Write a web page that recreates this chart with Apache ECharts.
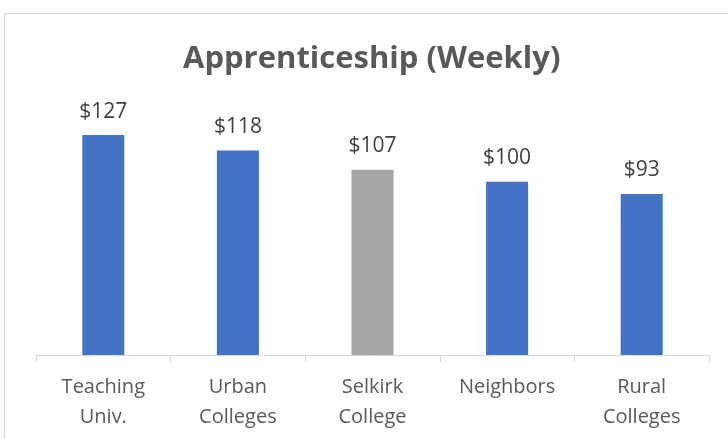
<!DOCTYPE html>
<html>
<head>
<meta charset="utf-8">
<script src="https://cdn.jsdelivr.net/npm/echarts@6/dist/echarts.min.js"></script>
<style>
  html, body { margin: 0; padding: 0; background: #fff; }
  #frame {
    position: absolute; left: 4px; top: 13px; width: 760px; height: 460px;
    border: 1px solid #d9d9d9; box-sizing: border-box;
  }
  #chart { position: absolute; left: 0; top: 0; width: 728px; height: 439px; }
</style>
</head>
<body>
<div id="frame"></div>
<div id="chart"></div>
<script>
const categories = ["Teaching\nUniv.", "Urban\nColleges", "Selkirk\nCollege", "Neighbors", "Rural\nColleges"];
const weeklyPay = [127, 118, 107, 100, 93];
const highlightIndex = 2;

const chart = echarts.init(document.getElementById("chart"));
const font = "Open Sans";

const option = {
  backgroundColor: "transparent",
  title: {
    text: "Apprenticeship (Weekly)",
    left: 183,
    top: 44,
    padding: 0,
    textStyle: {
      fontFamily: font,
      fontSize: 31,
      fontWeight: "bold",
      color: "#595959",
    },
  },
  grid: {
    left: 36,
    right: 19,
    top: 112.5,
    bottom: 84,
  },
  xAxis: {
    type: "category",
    data: categories,
    axisLine: { lineStyle: { color: "#d9d9d9", width: 1 } },
    axisTick: { show: true, length: 7, lineStyle: { color: "#d9d9d9" } },
    axisLabel: {
      fontFamily: font,
      fontSize: 20,
      color: "#595959",
      lineHeight: 30,
      margin: 17,
      verticalAlign: "top",
    },
  },
  yAxis: {
    type: "value",
    min: 0,
    max: 140,
    show: false,
    splitLine: { show: false },
  },
  series: [
    {
      type: "bar",
      barWidth: 42,
      data: weeklyPay.map((v, i) => ({
        value: v,
        itemStyle: { color: i === highlightIndex ? "#a5a5a5" : "#4472c4" },
      })),
      label: {
        show: true,
        position: "top",
        distance: 13,
        fontFamily: font,
        fontSize: 21,
        color: "#404040",
        formatter: (p) => "$" + p.value,
      },
    },
  ],
};
chart.setOption(option);
</script>
</body>
</html>
